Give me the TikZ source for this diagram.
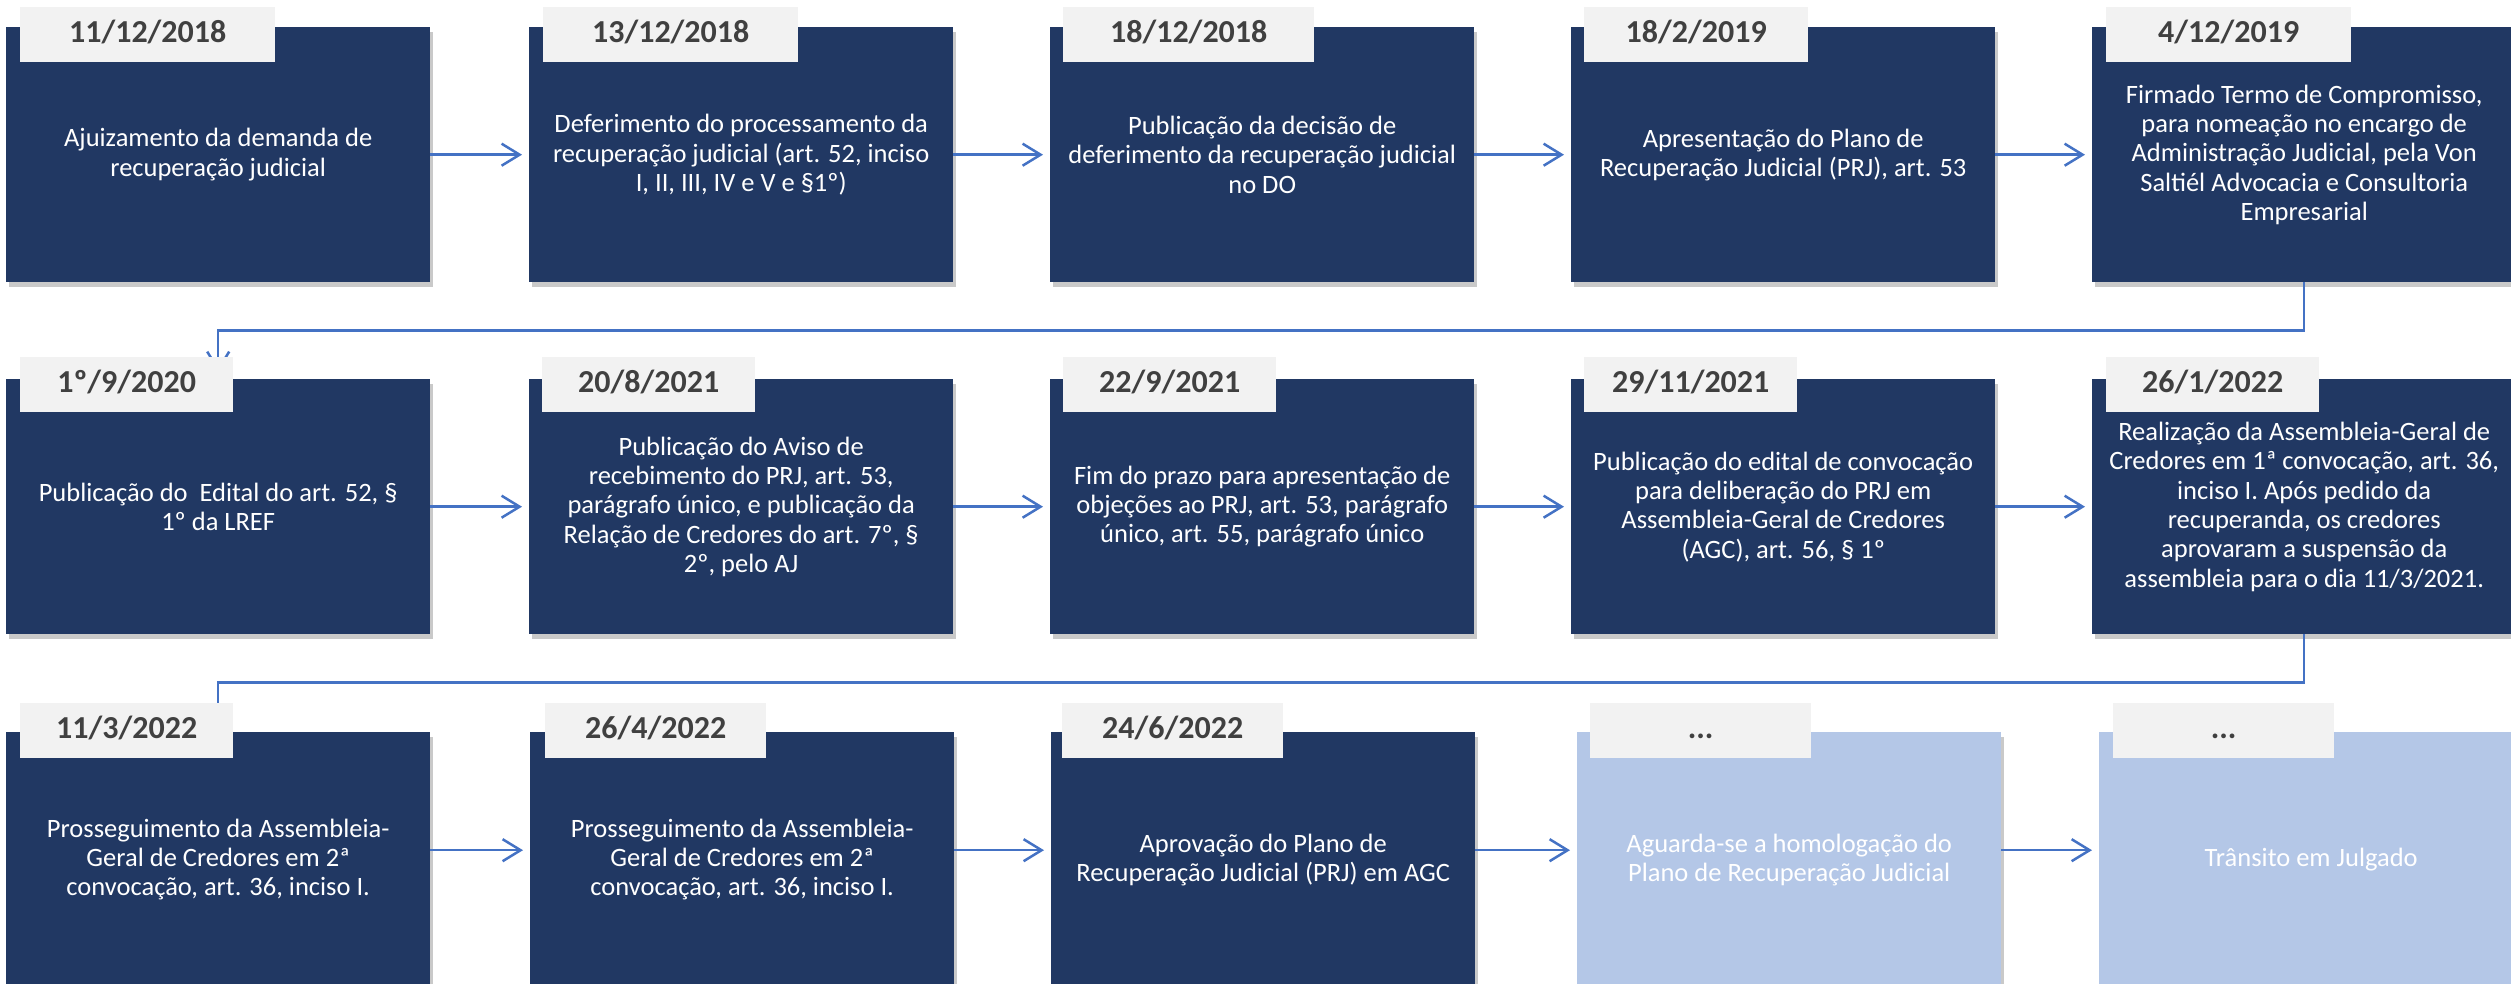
\documentclass[tikz,border=0pt]{standalone}
\usepackage{fontspec}
\setmainfont{Carlito}
\usetikzlibrary{arrows.meta,shadows}
\definecolor{navy}{HTML}{213863}
\definecolor{lightbox}{HTML}{B4C7E7}
\definecolor{tabgray}{HTML}{F2F2F2}
\definecolor{dategray}{HTML}{404040}
\definecolor{arrowblue}{HTML}{4472C4}
\newcommand\bodyf{\fontsize{26.5}{29.3}\selectfont}
\newcommand\datef{\fontsize{32}{36}\selectfont\bfseries}
\tikzset{
  evtbox/.style={fill=navy, anchor=north west, minimum width=424pt, minimum height=255pt,
    inner sep=0pt, text=white, font=\bodyf, align=center,
    drop shadow={shadow xshift=3pt, shadow yshift=-5pt, opacity=0.3, fill=black!70}},
  litebox/.style={evtbox, fill=lightbox},
  datetab/.style={fill=tabgray, anchor=north west, minimum height=55pt, inner sep=0pt,
    text=dategray, font=\datef, text height=22pt, text depth=6pt},
  conn/.style={draw=arrowblue, line width=2.5pt, shorten >=7pt,
    -{Straight Barb[length=18pt,width=22pt,line width=2.5pt]}}
}
\begin{document}
\begin{tikzpicture}[x=1pt,y=-1pt]
\useasboundingbox (0,0) rectangle (2511,984);
% ---------- row 1 boxes
\node[evtbox] (r1c1) at (6,27) {Ajuizamento da demanda de\\recuperação judicial};
\node[evtbox] (r1c2) at (529,27) {Deferimento do processamento da\\recuperação judicial (art. 52, inciso\\I, II, III, IV e V e §1º)};
\node[evtbox] (r1c3) at (1050,27) {Publicação da decisão de\\deferimento da recuperação judicial\\no DO};
\node[evtbox] (r1c4) at (1571,27) {Apresentação do Plano de\\Recuperação Judicial (PRJ), art. 53};
\node[evtbox] (r1c5) at (2092,27) {Firmado Termo de Compromisso,\\para nomeação no encargo de\\Administração Judicial, pela Von\\Saltiél Advocacia e Consultoria\\Empresarial};
% ---------- row 2 boxes
\node[evtbox] (r2c1) at (6,379) {Publicação do\ \ Edital do art. 52, §\\1º da LREF};
\node[evtbox] (r2c2) at (529,379) {Publicação do Aviso de\\recebimento do PRJ, art. 53,\\parágrafo único, e publicação da\\Relação de Credores do art. 7º, §\\2º, pelo AJ};
\node[evtbox] (r2c3) at (1050,379) {Fim do prazo para apresentação de\\objeções ao PRJ, art. 53, parágrafo\\único, art. 55, parágrafo único};
\node[evtbox] (r2c4) at (1571,379) {Publicação do edital de convocação\\para deliberação do PRJ em\\Assembleia-Geral de Credores\\(AGC), art. 56, § 1º};
\node[evtbox] (r2c5) at (2092,379) {Realização da Assembleia-Geral de\\Credores em 1ª convocação, art. 36,\\inciso I. Após pedido da\\recuperanda, os credores\\aprovaram a suspensão da\\assembleia para o dia 11/3/2021.};
% ---------- row 3 boxes
\node[evtbox] (r3c1) at (6,732) {Prosseguimento da Assembleia-\\Geral de Credores em 2ª\\convocação, art. 36, inciso I.};
\node[evtbox] (r3c2) at (530,732) {Prosseguimento da Assembleia-\\Geral de Credores em 2ª\\convocação, art. 36, inciso I.};
\node[evtbox] (r3c3) at (1051,732) {Aprovação do Plano de\\Recuperação Judicial (PRJ) em AGC};
\node[litebox] (r3c4) at (1577,732) {Aguarda-se a homologação do\\Plano de Recuperação Judicial};
\node[litebox] (r3c5) at (2099,732) {Trânsito em Julgado};
% ---------- connectors
\foreach \a/\b in {r1c1/r1c2, r1c2/r1c3, r1c3/r1c4, r1c4/r1c5,
                   r2c1/r2c2, r2c2/r2c3, r2c3/r2c4, r2c4/r2c5}
  \draw[conn] (\a.east) -- (\b.west);
\foreach \a/\b in {r3c1/r3c2, r3c2/r3c3, r3c3/r3c4, r3c4/r3c5}
  \draw[conn] ([yshift=9.5pt]\a.east) -- ([yshift=9.5pt]\b.west);
\draw[conn] (r1c5.south) -- ++(0,48) -| (r2c1.north);
\draw[conn] (r2c5.south) -- ++(0,48) -| (r3c1.north);
% ---------- date tabs
\node[datetab, minimum width=255pt] (d1c1) at (20,7) {11/12/2018};
\node[datetab, minimum width=255pt] (d1c2) at (543,7) {13/12/2018};
\node[datetab, minimum width=251pt] (d1c3) at (1063,7) {18/12/2018};
\node[datetab, minimum width=224pt] (d1c4) at (1584,7) {18/2/2019};
\node[datetab, minimum width=245pt] (d1c5) at (2106,7) {4/12/2019};
\node[datetab, minimum width=213pt] (d2c1) at (20,357) {1º/9/2020};
\node[datetab, minimum width=213pt] (d2c2) at (542,357) {20/8/2021};
\node[datetab, minimum width=213pt] (d2c3) at (1063,357) {22/9/2021};
\node[datetab, minimum width=213pt] (d2c4) at (1584,357) {29/11/2021};
\node[datetab, minimum width=213pt] (d2c5) at (2106,357) {26/1/2022};
\node[datetab, minimum width=213pt] (d3c1) at (20,703) {11/3/2022};
\node[datetab, minimum width=221pt] (d3c2) at (545,703) {26/4/2022};
\node[datetab, minimum width=221pt] (d3c3) at (1062,703) {24/6/2022};
\node[datetab, minimum width=221pt] (d3c4) at (1590,703) {...};
\node[datetab, minimum width=221pt] (d3c5) at (2113,703) {...};
\end{tikzpicture}
\end{document}
